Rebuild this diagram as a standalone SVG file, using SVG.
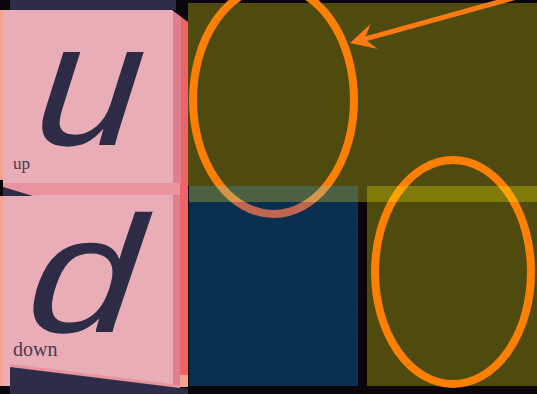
<svg xmlns="http://www.w3.org/2000/svg" width="537" height="394" viewBox="0 0 537 394">
<style>
.face{fill:#e8adb6}
.lstrip{fill:#f3a38f}
.dstrip{fill:#e07f8c}
.rstrip{fill:#f0626a}
.band{fill:#e8939e}
.navy{fill:#2f2c48}
.big{font-family:"Liberation Sans",Arial,sans-serif;font-style:italic;fill:#2d2b46}
.small{font-family:"Liberation Serif","Times New Roman",serif;fill:#4a3a52}
.ring{fill:none;stroke-width:8}
</style>
<defs>
<clipPath id="cTop"><rect x="0" y="-30" width="537" height="216"/></clipPath>
<clipPath id="cBand"><rect x="0" y="186" width="537" height="16"/></clipPath>
<clipPath id="cBot"><rect x="0" y="202" width="537" height="200"/></clipPath>
<marker id="ah" viewBox="0 0 25 26" refX="10" refY="13" markerWidth="25" markerHeight="26" markerUnits="userSpaceOnUse" orient="auto">
<path d="M25,13 L0,0 L10,13 L0,26 Z" fill="#ff7a12"/>
</marker>
</defs>
<rect x="0" y="0" width="537" height="394" fill="#0a060c"/>

<g id="block-up">
<rect class="face" x="0" y="10" width="175" height="174"/>
<rect class="lstrip" x="0" y="10" width="3" height="174"/>
<rect class="dstrip" x="173" y="12" width="8" height="172"/>
<rect class="rstrip" x="181" y="16" width="7" height="168"/>
<polygon points="172,10 188,10 188,22" fill="#0a060c"/>
<rect class="navy" x="10" y="0" width="166" height="10"/>
<text class="big" transform="translate(32,145) skewX(-6) scale(1.08,1)" x="0" y="0" font-size="176">u</text>
<text class="small" x="13" y="169" font-size="17">up</text>
</g>

<g id="block-down">
<rect class="face" x="0" y="195" width="180" height="191"/>
<rect class="lstrip" x="0" y="195" width="3" height="191"/>
<rect class="dstrip" x="173" y="195" width="7" height="191"/>
<rect class="rstrip" x="180" y="183" width="8" height="192"/>
<rect class="lstrip" x="180" y="375" width="8" height="12"/>
<rect class="band" x="0" y="183" width="180" height="12"/>
<polygon class="navy" points="0,186 33,196 0,196"/>
<rect x="0" y="180" width="3" height="16" fill="#0a060c"/>
<polygon class="band" points="10,364 180,385 180,389 10,368"/>
<polygon class="navy" points="10,367 188,389 188,394 10,394"/>
<text class="big" transform="translate(24,332) skewX(-6) scale(1.2,1)" x="0" y="0" font-size="166">d</text>
<text class="small" x="13" y="356" font-size="20">down</text>
</g>

<g id="region-top">
<rect x="188" y="3" width="349" height="183" fill="#4f4a0e"/>
<rect x="358" y="186" width="9" height="16" fill="#4f4a0e"/>
</g>

<g id="region-left">
<rect x="189" y="186" width="169" height="16" fill="#4b6141"/>
<rect x="189" y="202" width="169" height="184" fill="#0a2f4f"/>
</g>

<g id="region-right">
<rect x="367" y="186" width="170" height="16" fill="#807a0b"/>
<rect x="367" y="202" width="170" height="184" fill="#4f4a0e"/>
</g>

<g id="ellipse-left">
<ellipse class="ring" cx="273.5" cy="100" rx="80.5" ry="114" stroke="#ff7f00" clip-path="url(#cTop)"/>
<ellipse class="ring" cx="273.5" cy="100" rx="80.5" ry="114" stroke="#d6934a" clip-path="url(#cBand)"/>
<ellipse class="ring" cx="273.5" cy="100" rx="80.5" ry="114" stroke="#c0664e" clip-path="url(#cBot)"/>
</g>

<g id="ellipse-right">
<ellipse class="ring" cx="453" cy="272" rx="78" ry="112" stroke="#ff7f00" clip-path="url(#cTop)"/>
<ellipse class="ring" cx="453" cy="272" rx="78" ry="112" stroke="#ffa200" clip-path="url(#cBand)"/>
<ellipse class="ring" cx="453" cy="272" rx="78" ry="112" stroke="#ff7f00" clip-path="url(#cBot)"/>
</g>

<g id="connectors">
<line x1="542" y1="-10" x2="364.5" y2="39.1" stroke="#ff7a12" stroke-width="5" marker-end="url(#ah)"/>
</g>
</svg>
